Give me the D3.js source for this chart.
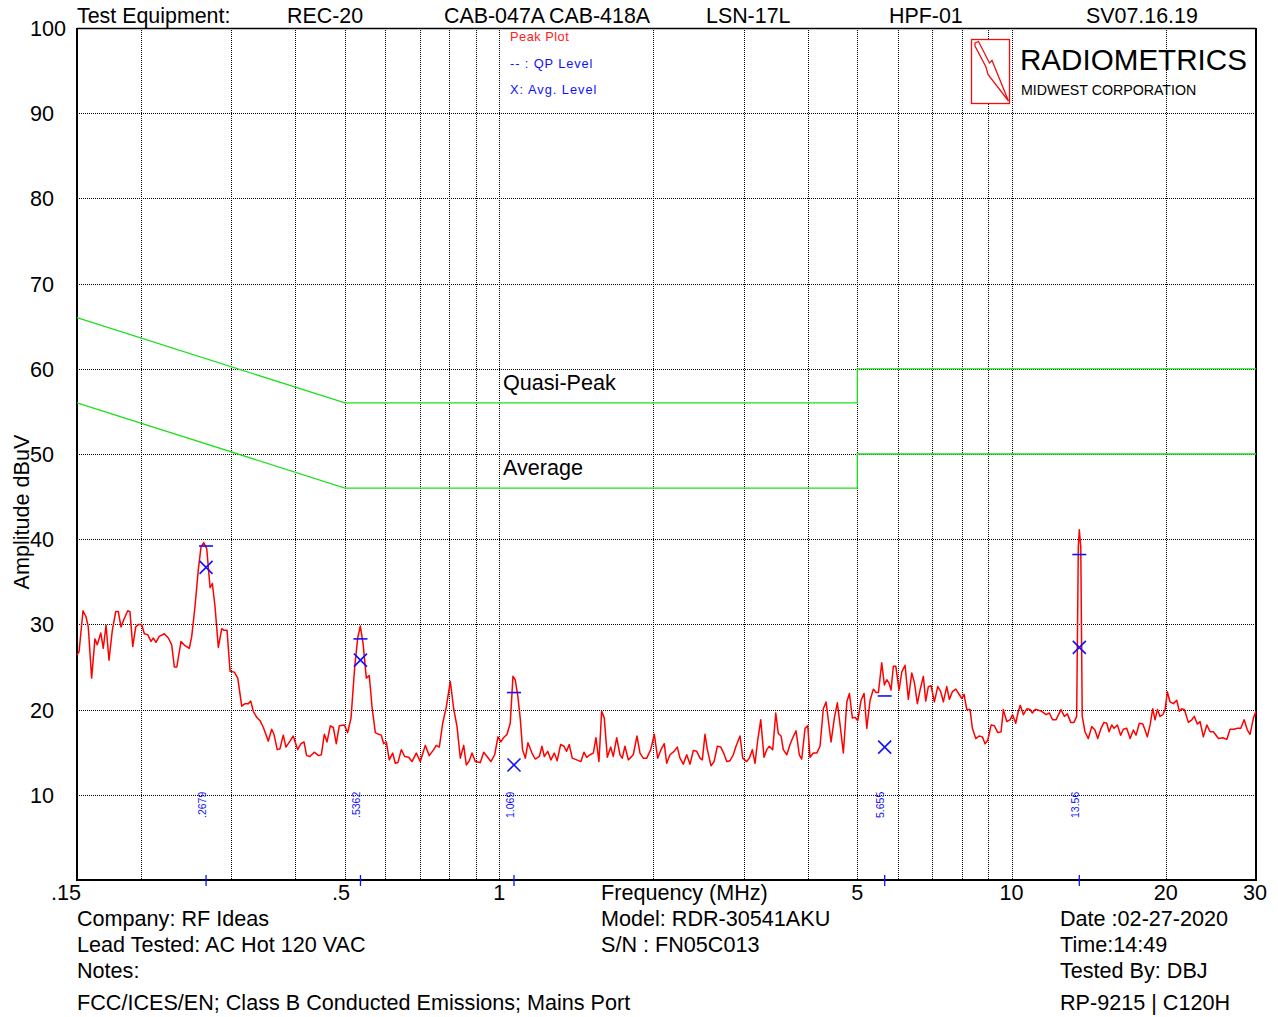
<!DOCTYPE html>
<html lang="en">
<head>
<meta charset="utf-8">
<title>Conducted Emissions - Peak Plot</title>
<script src="https://d3js.org/d3.v7.min.js"></script>
<style>
body { margin: 0; background: #ffffff; }
text { font-family: "Liberation Sans", Arial, sans-serif; fill: #000; }
</style>
</head>
<body>
<div id="chart"></div>
<script>

// peak scan (MHz / dBuV)
var peakFreq = [
  0.15, 0.1514, 0.1541, 0.1562, 0.1578, 0.1602, 0.1626, 0.1643, 0.1669, 0.1688,
  0.1709, 0.1732, 0.1758, 0.1785, 0.1806, 0.1828, 0.1855, 0.1884, 0.1903, 0.1927,
  0.1953, 0.1976, 0.2006, 0.2030, 0.2061, 0.2092, 0.2114, 0.2139, 0.2171, 0.2221,
  0.2261, 0.2296, 0.2323, 0.2349, 0.2394, 0.2437, 0.2485, 0.2512, 0.2549, 0.2587,
  0.2619, 0.2651, 0.2687, 0.2728, 0.2756, 0.2789, 0.2831, 0.2875, 0.2905, 0.2944,
  0.2984, 0.3042, 0.3089, 0.3145, 0.3192, 0.3240, 0.3275, 0.3313, 0.3364, 0.3415,
  0.3466, 0.3544, 0.3598, 0.3635, 0.3689, 0.3734, 0.3790, 0.3836, 0.3906, 0.3964,
  0.4043, 0.4104, 0.4160, 0.4210, 0.4273, 0.4356,
  0.4444, 0.4497, 0.4558, 0.4614, 0.4682, 0.4746, 0.4810, 0.4875, 0.4986, 0.5063,
  0.5139, 0.5225, 0.5296, 0.5358, 0.5424, 0.5505, 0.5579, 0.5648, 0.5732, 0.5820,
  0.5889, 0.5951, 0.6022, 0.6103, 0.6197, 0.6270, 0.6347, 0.6442, 0.6541, 0.6659,
  0.6759, 0.6891, 0.7016, 0.7175, 0.7305, 0.7451, 0.7539, 0.7642, 0.7759, 0.7885,
  0.8029, 0.8152, 0.8275, 0.8398, 0.8527, 0.8628, 0.8744, 0.8852, 0.8984, 0.9188,
  0.9329, 0.9469, 0.9638, 0.980, 0.9946, 1.008, 1.020, 1.036, 1.051, 1.064,
  1.075, 1.088, 1.100, 1.111, 1.125, 1.138, 1.159, 1.176, 1.198, 1.212,
  1.225, 1.244, 1.262,
  1.281, 1.298, 1.318, 1.338, 1.354, 1.370, 1.389, 1.417, 1.444, 1.464,
  1.482, 1.504, 1.527, 1.545, 1.566, 1.585, 1.604, 1.626, 1.651, 1.670,
  1.696, 1.721, 1.739, 1.760, 1.787, 1.827, 1.858, 1.883, 1.911, 1.941,
  1.976, 2.008, 2.039, 2.069, 2.100, 2.123, 2.155, 2.194, 2.227, 2.254,
  2.288, 2.323, 2.358, 2.393, 2.430, 2.466, 2.492, 2.522, 2.549, 2.591,
  2.627, 2.666, 2.707, 2.747, 2.781, 2.822, 2.864, 2.899, 2.952, 2.988,
  3.042, 3.078, 3.120, 3.158, 3.196, 3.240, 3.288, 3.328, 3.367, 3.419,
  3.466, 3.506, 3.550, 3.586, 3.642, 3.696, 3.741, 3.797, 3.853,
  3.895, 3.954, 4.002, 4.043, 4.104, 4.167, 4.229, 4.292, 4.345, 4.444,
  4.510, 4.571, 4.628, 4.697, 4.770, 4.826, 4.891, 4.950, 5.011, 5.086,
  5.155, 5.218, 5.296, 5.375, 5.441, 5.498, 5.581, 5.647, 5.708, 5.767,
  5.819, 5.880, 5.944, 6.032, 6.106, 6.197, 6.290, 6.387, 6.462, 6.550,
  6.630, 6.728, 6.801, 6.881, 6.966, 7.069, 7.178, 7.276, 7.361, 7.475,
  7.563, 7.666, 7.784, 7.900, 8.000, 8.079, 8.178, 8.300, 8.386, 8.516,
  8.644, 8.772, 8.879, 8.988, 9.122, 9.258, 9.401, 9.542, 9.638, 9.787,
  9.933, 10.05, 10.19, 10.31, 10.40, 10.55, 10.71, 10.87, 10.98, 11.11,
  11.20, 11.45, 11.68, 11.85, 12.03, 12.21, 12.49, 12.68, 12.85, 13.05,
  13.24, 13.40, 13.50, 13.56, 13.65, 13.74, 13.91, 14.12, 14.34, 14.55,
  14.73, 14.93, 15.15, 15.34, 15.50, 15.69, 15.85, 16.09, 16.33, 16.53,
  16.78, 17.04, 17.29, 17.50, 17.76, 18.04, 18.22, 18.41, 18.64, 18.86,
  19.06, 19.26, 19.49, 19.73, 19.94, 20.14, 20.39, 20.69, 21.01, 21.26,
  21.49, 21.74, 22.14, 22.48, 22.74, 23.05, 23.33, 23.68, 24.05, 24.41,
  24.77, 25.34, 25.84, 26.31, 26.70, 27.19, 27.59, 28.02, 28.44, 28.86,
  29.21, 29.65, 30.0
];
var peakLevel = [
  26.4, 26.8, 31.6, 30.9, 29.7, 23.7, 28.3, 27.6, 29.0, 27.2,
  29.9, 25.8, 29.3, 31.5, 31.5, 29.7, 30.7, 31.6, 31.5, 27.4,
  29.7, 30.0, 30.0, 28.9, 28.8, 28.0, 28.4, 27.9, 28.6, 28.9,
  28.4, 27.6, 25.0, 25.0, 28.0, 27.5, 27.2, 28.6, 32.1, 36.4,
  39.1, 39.6, 38.9, 34.3, 34.8, 32.1, 27.3, 29.5, 29.3, 29.3,
  24.5, 24.4, 23.7, 20.4, 20.7, 20.7, 21.0, 19.8, 19.1, 18.7,
  17.9, 16.3, 17.7, 17.1, 15.3, 15.4, 17.0, 15.6, 16.3, 16.9,
  15.3, 16.0, 16.2, 14.6, 14.5, 15.0,
  14.6, 14.7, 17.1, 16.2, 18.1, 17.9, 16.0, 18.1, 18.2, 17.3,
  19.0, 25.0, 28.4, 29.8, 27.8, 23.7, 24.0, 20.3, 17.3, 17.1,
  17.0, 16.0, 16.2, 14.1, 14.9, 13.7, 13.8, 15.3, 14.5, 14.4,
  13.9, 14.9, 13.9, 15.8, 14.6, 15.3, 15.8, 15.6, 18.4, 20.3,
  23.3, 20.1, 18.0, 14.3, 15.8, 13.5, 14.0, 14.9, 13.9, 13.8,
  15.0, 14.5, 13.9, 14.7, 16.8, 16.2, 16.7, 17.1, 18.4, 23.9,
  23.5, 21.5, 18.8, 15.3, 14.3, 16.1, 14.9, 14.2, 14.5, 15.7,
  14.5, 15.1, 14.1,
  14.9, 14.0, 15.9, 15.7, 15.1, 15.9, 14.3, 14.1, 13.9, 15.0,
  14.4, 14.7, 14.9, 16.7, 13.9, 19.8, 19.0, 14.4, 15.6, 14.5,
  16.7, 14.7, 14.3, 15.7, 14.1, 14.7, 16.9, 14.9, 14.3, 14.3,
  15.3, 17.1, 14.3, 15.3, 16.0, 13.7, 14.7, 15.1, 15.6, 14.3,
  13.6, 14.7, 13.6, 15.2, 15.1, 14.3, 14.1, 17.1, 15.3, 13.4,
  13.9, 15.7, 15.6, 14.8, 13.9, 14.0, 14.7, 15.7, 16.9, 14.3,
  13.9, 14.3, 15.3, 13.7, 16.4, 18.8, 14.4, 15.3, 15.7, 15.3,
  19.6, 17.2, 16.9, 15.3, 14.7, 15.9, 16.7, 17.5, 14.7,
  14.2, 17.8, 18.1, 14.4, 14.9, 14.9, 15.7, 20.1, 20.9, 16.2,
  19.0, 20.8, 18.2, 14.9, 20.9, 21.9, 19.0, 19.1, 18.7, 21.1,
  21.9, 17.8, 21.1, 22.4, 22.0, 22.0, 25.5, 22.9, 23.5, 23.1,
  22.3, 25.1, 25.1, 22.3, 24.4, 25.2, 21.2, 24.3, 23.2, 20.7,
  22.3, 23.9, 21.0, 22.7, 22.8, 20.9, 22.7, 22.1, 20.9, 22.7,
  21.2, 22.1, 22.4, 21.8, 21.3, 21.8, 20.0, 20.0, 17.8, 16.6,
  16.9, 16.8, 16.0, 16.4, 18.2, 18.1, 17.3, 17.4, 20.0, 18.6,
  18.8, 19.4, 18.4, 19.8, 20.5, 19.4, 20.1, 20.0, 19.6, 20.0,
  20.0, 19.8, 19.4, 19.6, 18.8, 18.8, 20.0, 19.2, 19.5, 18.5,
  18.5, 19.2, 39.1, 41.1, 39.1, 19.2, 17.4, 16.6, 18.0, 17.6,
  16.6, 17.7, 18.5, 18.4, 17.4, 18.2, 17.8, 18.2, 17.0, 17.7,
  17.8, 16.6, 17.6, 17.0, 18.4, 18.3, 17.6, 16.8, 18.2, 20.1,
  18.8, 20.0, 19.2, 19.4, 20.0, 22.1, 20.9, 20.7, 21.1, 19.8,
  20.1, 20.0, 18.5, 18.8, 19.2, 18.3, 18.6, 16.8, 18.2, 17.4,
  17.4, 16.6, 16.7, 16.5, 17.7, 17.7, 17.8, 17.8, 18.8, 17.6,
  17.1, 19.0, 19.8
];

// measured signals
var markFreq = [0.2679, 0.5362, 1.069, 5.655, 13.56];
var markLabel = [".2679", ".5362", "1.069", "5.655", "13.56"];
var qpLevel = [39.2, 28.3, 22.0, 21.6, 38.2];
var avgLevel = [36.7, 25.8, 13.5, 15.6, 27.3];

// class B mains limits
var limitFreq = [0.15, 0.5, 5, 5, 30];
var qpLimit = [66, 56, 56, 60, 60];
var avgLimit = [56, 46, 46, 50, 50];

var gridFreq = [0.2, 0.3, 0.4, 0.5, 0.6, 0.7, 0.8, 0.9, 1, 2, 3, 4, 5, 6, 7, 8, 9, 10, 20];
var yTicks = [10, 20, 30, 40, 50, 60, 70, 80, 90, 100];
var xTickVals = [0.15, 0.5, 1, 5, 10, 20, 30];
var xTickText = [".15", ".5", "1", "5", "10", "20", "30"];

var headerText = ["Test Equipment:", "REC-20", "CAB-047A", "CAB-418A", "LSN-17L", "HPF-01", "SV07.16.19"];
var infoLeft = ["Company: RF Ideas", "Lead Tested: AC Hot 120 VAC", "Notes:", "FCC/ICES/EN; Class B Conducted Emissions; Mains Port"];
var infoMid = ["Model: RDR-30541AKU", "S/N : FN05C013"];
var infoRight = ["Date :02-27-2020", "Time:14:49", "Tested By: DBJ", "RP-9215 | C120H"];

var width = 1278, height = 1017;
var plotL = 77, plotR = 1256, plotT = 28, plotB = 880;
var fs = 21.6;

var svg = d3.select("#chart").append("svg")
  .attr("width", width)
  .attr("height", height);

var x = d3.scaleLog().domain([0.15, 30]).range([plotL, plotR]);
var y = d3.scaleLinear().domain([0, 100]).range([plotB, plotT]);

// dotted grid
svg.append("g").selectAll("line")
  .data(yTicks.filter(function (d) { return d < 100; }))
  .enter().append("line")
  .attr("x1", plotL).attr("x2", plotR)
  .attr("y1", function (d) { return Math.round(y(d)) + 0.5; })
  .attr("y2", function (d) { return Math.round(y(d)) + 0.5; })
  .attr("stroke", "#000").attr("stroke-width", 1)
  .attr("stroke-dasharray", "1,1");

svg.append("g").selectAll("line")
  .data(gridFreq)
  .enter().append("line")
  .attr("x1", function (d) { return Math.round(x(d)) + 0.5; })
  .attr("x2", function (d) { return Math.round(x(d)) + 0.5; })
  .attr("y1", plotT).attr("y2", plotB)
  .attr("stroke", "#000").attr("stroke-width", 1)
  .attr("stroke-dasharray", "1,1");

// frame
svg.append("line").attr("x1", plotL).attr("x2", plotR).attr("y1", plotT + 0.5).attr("y2", plotT + 0.5)
  .attr("stroke", "#000").attr("stroke-width", 1.3);
svg.append("line").attr("x1", plotL).attr("x2", plotL).attr("y1", plotT).attr("y2", plotB + 1)
  .attr("stroke", "#000").attr("stroke-width", 2);
svg.append("line").attr("x1", plotL).attr("x2", plotR).attr("y1", plotB).attr("y2", plotB)
  .attr("stroke", "#000").attr("stroke-width", 2);
svg.append("line").attr("x1", plotR).attr("x2", plotR).attr("y1", plotT).attr("y2", plotB + 1)
  .attr("stroke", "#000").attr("stroke-width", 2);

// limit lines
var line = d3.line()
  .x(function (d) { return x(d[0]); })
  .y(function (d) { return y(d[1]); });

svg.append("path")
  .datum(d3.zip(limitFreq, qpLimit))
  .attr("d", line)
  .attr("fill", "none").attr("stroke", "#1ee01e").attr("stroke-width", 1.3);
svg.append("path")
  .datum(d3.zip(limitFreq, avgLimit))
  .attr("d", line)
  .attr("fill", "none").attr("stroke", "#1ee01e").attr("stroke-width", 1.3);

svg.append("text").attr("x", 503).attr("y", y(56) - 13).attr("font-size", fs).text("Quasi-Peak");
svg.append("text").attr("x", 503).attr("y", y(46) - 13).attr("font-size", fs).text("Average");

// peak trace
svg.append("path")
  .datum(d3.zip(peakFreq, peakLevel))
  .attr("d", line)
  .attr("fill", "none").attr("stroke", "#ff0000").attr("stroke-width", 1.5)
  .attr("stroke-linejoin", "round");

// QP dashes and average crosses
var mk = svg.append("g").attr("stroke", "#1010ff").attr("stroke-width", 1.6);
for (var i = 0; i < markFreq.length; i++) {
  var mx = x(markFreq[i]);
  mk.append("line")
    .attr("x1", mx - 7).attr("x2", mx + 7)
    .attr("y1", y(qpLevel[i])).attr("y2", y(qpLevel[i]));
  var ay = y(avgLevel[i]);
  mk.append("line").attr("x1", mx - 6.5).attr("x2", mx + 6.5).attr("y1", ay - 6.5).attr("y2", ay + 6.5);
  mk.append("line").attr("x1", mx - 6.5).attr("x2", mx + 6.5).attr("y1", ay + 6.5).attr("y2", ay - 6.5);
  mk.append("line")
    .attr("x1", mx).attr("x2", mx)
    .attr("y1", plotB - 5).attr("y2", plotB + 6)
    .attr("stroke-width", 1.3);
  svg.append("text")
    .attr("transform", "translate(" + (mx - 0.5) + ",818) rotate(-90)")
    .attr("font-size", 10.5)
    .style("fill", "#1010ff")
    .text(markLabel[i]);
}

// y labels
svg.append("g").selectAll("text")
  .data(yTicks)
  .enter().append("text")
  .attr("x", 30)
  .attr("y", function (d) { return y(d) + 8; })
  .attr("font-size", fs)
  .text(function (d) { return d; });

svg.append("text")
  .attr("transform", "translate(29,512) rotate(-90)")
  .attr("text-anchor", "middle")
  .attr("font-size", fs)
  .text("Amplitude dBuV");

// x labels
svg.append("g").selectAll("text")
  .data(xTickVals)
  .enter().append("text")
  .attr("x", function (d, i) {
    if (i == 0) return x(d) - 11;
    if (i == 1) return x(d) - 4;
    if (i == xTickVals.length - 1) return x(d) - 1;
    return x(d);
  })
  .attr("y", 900)
  .attr("text-anchor", "middle")
  .attr("font-size", fs)
  .text(function (d, i) { return xTickText[i]; });

svg.append("text").attr("x", 601).attr("y", 900).attr("font-size", fs).text("Frequency (MHz)");

// header line
var headerX = [77, 287, 444, 549, 706, 889, 1086];
svg.append("g").selectAll("text")
  .data(headerText)
  .enter().append("text")
  .attr("x", function (d, i) { return headerX[i]; })
  .attr("y", 23)
  .attr("font-size", 21.4)
  .text(function (d) { return d; });

// legend
svg.append("text").attr("x", 510).attr("y", 41).attr("font-size", 12.8)
  .style("fill", "#ff2020").style("letter-spacing", "0.5px").text("Peak Plot");
svg.append("text").attr("x", 510).attr("y", 68).attr("font-size", 12.8)
  .style("fill", "#1010ff").style("letter-spacing", "0.9px").text("-- : QP Level");
svg.append("text").attr("x", 510).attr("y", 94).attr("font-size", 12.8)
  .style("fill", "#1010ff").style("letter-spacing", "1px").text("X: Avg. Level");

// logo
svg.append("rect")
  .attr("x", 971.5).attr("y", 39.5).attr("width", 38).attr("height", 64)
  .attr("fill", "#fff").attr("stroke", "#ee1111").attr("stroke-width", 1.3);
svg.append("path")
  .attr("d", "M975,43 L978.5,41.5 L989.5,63 L992,60.5 L1008.5,101 L988,74.5 L986,67 L975,46 Z")
  .attr("fill", "none").attr("stroke", "#ee1111").attr("stroke-width", 1.3);
svg.append("text").attr("x", 1020).attr("y", 70).attr("font-size", 29.6).text("RADIOMETRICS");
svg.append("text").attr("x", 1021).attr("y", 95).attr("font-size", 14.2).text("MIDWEST CORPORATION");

// info block
var rowY = [926, 952, 978, 1010];
infoLeft.forEach(function (t, i) {
  svg.append("text").attr("x", 77).attr("y", rowY[i]).attr("font-size", fs).text(t);
});
infoMid.forEach(function (t, i) {
  svg.append("text").attr("x", 601).attr("y", rowY[i]).attr("font-size", fs).text(t);
});
infoRight.forEach(function (t, i) {
  svg.append("text").attr("x", 1060).attr("y", rowY[i]).attr("font-size", fs).text(t);
});

</script>
</body>
</html>
